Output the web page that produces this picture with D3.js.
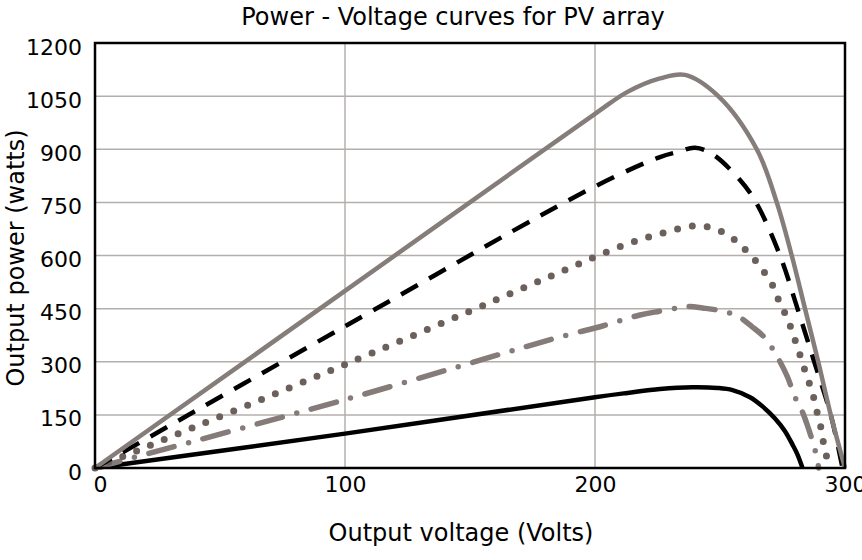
<!DOCTYPE html>
<html><head><meta charset="utf-8">
<script src="https://cdn.jsdelivr.net/npm/d3@7"></script>
<style>body{margin:0;background:#fff}svg{display:block}text{font-family:"DejaVu Sans",sans-serif;fill:#000}</style>
</head><body><svg id="c" width="862" height="560"></svg>
<script>
const title = "Power - Voltage curves for PV array";
const xLabel = "Output voltage (Volts)";
const yLabel = "Output power (watts)";
const xTicks = [0, 100, 200, 300];
const yTicks = [0, 150, 300, 450, 600, 750, 900, 1050, 1200];

const grayV = [0,100,200,213,226,236,249.3,264.7,272.7,278.7,284,289.3,294.3,300];
const grayP = [0,500,1000,1062,1100,1110,1050,900,750,600,450,300,150,0];
const dashV = [0,100,200,226,233,240,247,258,264.4,274,281,287.7,294.3,299];
const dashP = [0,400,795,878,892,904,886,813,750,600,450,300,150,0];
const dotV = [0,100,186,198,215,227,239,245,251,257,261,265,269,272,274,277,279,281,283,285,287,288.4,290,291,292.4,293.5];
const dotP = [0,292,553,590,638,663,683,681,666,638,610,579,539,503,463,423,381,342,296,254,212,169,127,85,40,0];
const dashDotV = [0,100,186,203,218,226,233,238,243,251,257,263,268,273,277,280,283,285.6,288,289.5];
const dashDotP = [0,193,370,401,432,443,452,456,452,443,429,398,367,313,257,200,158,107,51,0];
const blackV = [0,100,200,213,226,239,249,255,262,267,272,276,279,281,283];
const blackP = [0,97,200,212,223,228,226,220,200,174,140,104,66,38,0];

const FONT = "'DejaVu Sans',sans-serif";
const svg = d3.select("#c");
const L = 95, R = 845, T = 43, B = 468;
const x = d3.scaleLinear().domain([0,300]).range([L,R]);
const y = d3.scaleLinear().domain([0,1200]).range([B,T]);

// grid
svg.append("g").selectAll("line").data(yTicks.slice(1,-1)).join("line")
  .attr("x1",L).attr("x2",R).attr("y1",d=>y(d)).attr("y2",d=>y(d))
  .attr("stroke","#b4afad").attr("stroke-width",1.5);
svg.append("g").selectAll("line").data(xTicks.slice(1,-1)).join("line")
  .attr("y1",T).attr("y2",B).attr("x1",d=>x(d)).attr("x2",d=>x(d))
  .attr("stroke","#b4afad").attr("stroke-width",1.5);

// axes labels
const ya = svg.append("g").attr("transform",`translate(${L},0)`)
  .call(d3.axisLeft(y).tickValues(yTicks).tickFormat(d3.format("d")).tickSize(0).tickPadding(13));
ya.select(".domain").remove();
ya.selectAll("text").attr("font-size",22).attr("font-family",FONT).attr("dy","0.5em").attr("fill","#000");
const xa = svg.append("g").attr("transform",`translate(0,${B})`)
  .call(d3.axisBottom(x).tickValues(xTicks).tickFormat(d3.format("d")).tickSize(0).tickPadding(8));
xa.select(".domain").remove();
xa.selectAll("text").attr("font-size",22).attr("font-family",FONT).attr("fill","#000");
xa.selectAll(".tick").filter(d=>d===0).select("text").attr("dx",5);

const line = d3.line().x(d=>x(d[0])).y(d=>y(d[1])).curve(d3.curveCatmullRom.alpha(0.5));
const zip = (a,b)=>a.map((v,i)=>[v,b[i]]);
const g = svg.append("g").attr("fill","none");
g.append("path").attr("d",line(zip(blackV,blackP))).attr("stroke","#000").attr("stroke-width",4.5);
g.append("path").attr("d",line(zip(dashDotV,dashDotP))).attr("stroke","#857c79").attr("stroke-width",5.5)
  .attr("stroke-linecap","round").attr("stroke-dasharray","26,15,0,15");
g.append("path").attr("d",line(zip(dotV,dotP))).attr("stroke","#6b605c").attr("stroke-width",7)
  .attr("stroke-linecap","round").attr("stroke-dasharray","0,15");
g.append("path").attr("d",line(zip(dashV,dashP))).attr("stroke","#000").attr("stroke-width",4.5)
  .attr("stroke-dasharray","19,13");
g.append("path").attr("d",line(zip(grayV,grayP))).attr("stroke","#857d7a").attr("stroke-width",4.5);

// frame
svg.append("rect").attr("x",L).attr("y",T).attr("width",R-L).attr("height",B-T)
  .attr("fill","none").attr("stroke","#000").attr("stroke-width",2.5);

svg.append("text").attr("x",453).attr("y",25).attr("text-anchor","middle").attr("font-size",24).attr("font-family",FONT).text(title);
svg.append("text").attr("x",461).attr("y",541).attr("text-anchor","middle").attr("font-size",24).attr("font-family",FONT).text(xLabel);
svg.append("text").attr("transform","translate(24,258) rotate(-90)").attr("text-anchor","middle").attr("font-size",24).attr("font-family",FONT).text(yLabel);
</script></body></html>
